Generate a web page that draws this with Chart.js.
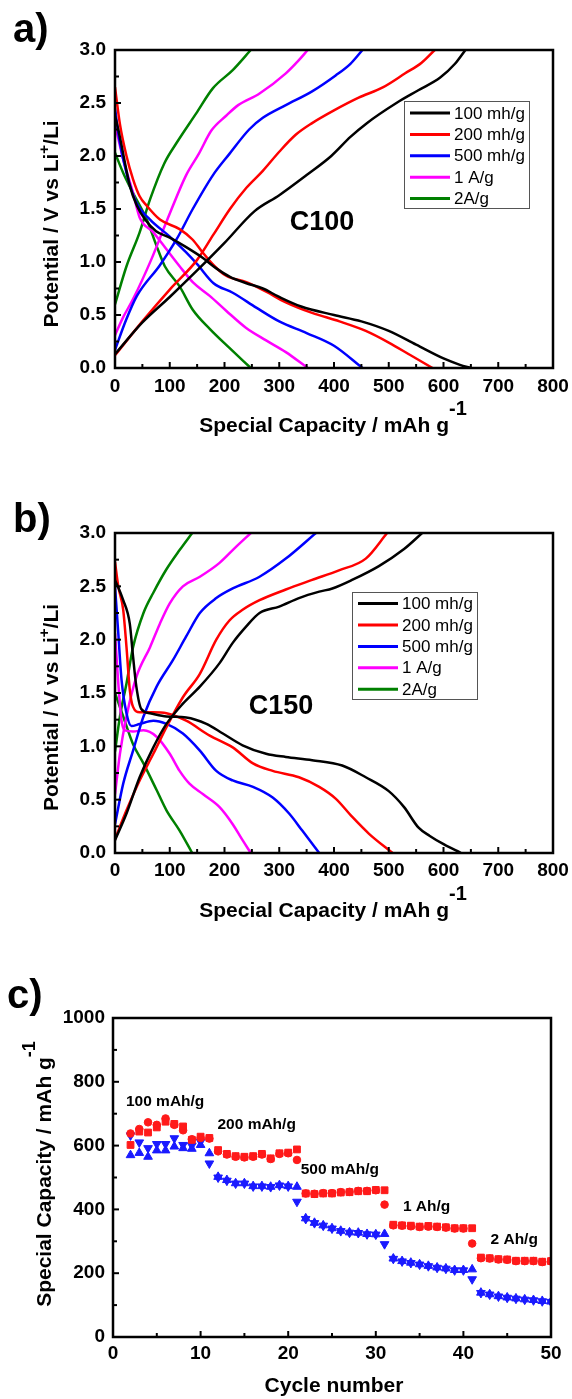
<!DOCTYPE html>
<html>
<head>
<meta charset="utf-8">
<script src="https://cdn.jsdelivr.net/npm/chart.js@4.4.1/dist/chart.umd.min.js"></script>
<style>
  html, body { margin: 0; padding: 0; background: #fff; }
  body { width: 572px; height: 1399px; position: relative; overflow: hidden; }
  canvas { position: absolute; left: 0; }
</style>
</head>
<body>
<canvas id="chartA" width="572" height="490" style="top:0px"></canvas>
<canvas id="chartB" width="572" height="470" style="top:490px"></canvas>
<canvas id="chartC" width="572" height="439" style="top:960px"></canvas>
<script>
const FONT = "'Liberation Sans', Arial, Helvetica, sans-serif";
Chart.defaults.font.family = FONT;
Chart.defaults.color = '#000';

// legend names and colours shared by panels a and b
const rateLabels = ['100 mh/g', '200 mh/g', '500 mh/g', '1 A/g', '2A/g'];
const rateColors = ['#000000', '#ff0000', '#0000ff', '#ff00ff', '#008000'];

// panel a (C100): [capacity mAh/g, potential V]
const a100Dis = [[0,2.38],[6,2.25],[15,2.02],[27,1.72],[40,1.53],[55,1.40],[75,1.29],[100,1.23],[130,1.14],[160,1.04],[185,0.94],[210,0.86],[240,0.80],[270,0.75],[300,0.67],[340,0.58],[400,0.50],[450,0.44],[500,0.35],[550,0.22],[600,0.09],[630,0.03],[650,0.0]];
const a100Chg = [[0,0.13],[50,0.43],[100,0.67],[150,0.92],[200,1.18],[255,1.48],[300,1.63],[350,1.82],[395,2.00],[430,2.18],[460,2.31],[514,2.50],[554,2.62],[594,2.74],[621,2.87],[640,3.0]];
const a200Dis = [[0,2.65],[9,2.30],[21,2.00],[33,1.78],[45,1.62],[58,1.53],[82,1.40],[118,1.31],[142,1.21],[160,1.09],[182,0.96],[203,0.87],[240,0.81],[276,0.72],[312,0.62],[360,0.52],[410,0.44],[458,0.35],[500,0.24],[540,0.12],[580,0.0]];
const a200Chg = [[0,0.12],[50,0.44],[100,0.74],[150,1.02],[180,1.26],[210,1.50],[240,1.70],[270,1.86],[300,2.04],[330,2.20],[360,2.31],[400,2.43],[445,2.55],[490,2.65],[530,2.78],[560,2.88],[584,3.0]];
const a500Dis = [[0,2.45],[8,2.15],[21,1.84],[39,1.56],[64,1.40],[100,1.24],[130,1.09],[150,0.98],[180,0.80],[215,0.71],[258,0.57],[300,0.44],[350,0.33],[400,0.21],[452,0.0]];
const a500Chg = [[0,0.17],[20,0.45],[40,0.68],[82,0.97],[112,1.21],[142,1.50],[179,1.82],[209,2.02],[245,2.25],[270,2.36],[312,2.48],[360,2.61],[403,2.76],[430,2.87],[452,3.0]];
const a1ADis = [[0,2.30],[15,1.97],[33,1.65],[45,1.42],[70,1.28],[94,1.12],[118,0.96],[142,0.81],[173,0.68],[203,0.54],[239,0.38],[276,0.26],[312,0.15],[352,0.0]];
const a1AChg = [[0,0.31],[15,0.48],[33,0.65],[66,1.02],[94,1.38],[130,1.82],[153,2.02],[176,2.24],[203,2.38],[225,2.48],[264,2.59],[312,2.78],[335,2.90],[352,3.0]];
const a2ADis = [[0,2.03],[15,1.84],[33,1.65],[58,1.40],[76,1.15],[91,0.96],[118,0.77],[142,0.55],[173,0.37],[209,0.19],[248,0.0]];
const a2AChg = [[0,0.60],[21,0.96],[45,1.28],[64,1.59],[90,1.93],[112,2.12],[148,2.40],[179,2.64],[215,2.81],[248,3.0]];

// panel b (C150)
const b100Dis = [[0,2.56],[15,2.37],[27,2.15],[33,1.84],[39,1.56],[48,1.35],[64,1.31],[94,1.28],[130,1.27],[167,1.21],[197,1.12],[233,1.01],[276,0.93],[312,0.90],[360,0.87],[415,0.82],[458,0.71],[500,0.58],[528,0.43],[554,0.24],[575,0.16],[601,0.08],[632,0.0]];
const b100Chg = [[0,0.12],[21,0.37],[45,0.71],[70,0.99],[94,1.21],[124,1.40],[155,1.56],[191,1.78],[215,1.97],[239,2.12],[264,2.25],[300,2.31],[336,2.39],[373,2.45],[397,2.48],[433,2.56],[482,2.69],[528,2.85],[561,3.0]];
const b200Dis = [[0,2.73],[6,2.50],[15,2.28],[21,1.93],[27,1.53],[33,1.37],[45,1.32],[70,1.32],[94,1.31],[130,1.24],[173,1.10],[215,0.99],[252,0.84],[288,0.77],[336,0.71],[373,0.62],[403,0.51],[433,0.34],[464,0.18],[507,0.0]];
const b200Chg = [[0,0.13],[21,0.40],[45,0.68],[70,0.93],[94,1.18],[124,1.46],[155,1.68],[185,2.00],[209,2.18],[233,2.28],[264,2.37],[312,2.47],[360,2.56],[409,2.65],[458,2.76],[497,3.0]];
const b500Dis = [[0,2.50],[6,2.06],[12,1.62],[21,1.31],[30,1.19],[45,1.21],[70,1.24],[94,1.21],[124,1.12],[155,0.96],[185,0.77],[215,0.68],[252,0.62],[288,0.52],[318,0.37],[342,0.21],[373,0.0]];
const b500Chg = [[0,0.27],[15,0.65],[33,0.96],[52,1.28],[76,1.56],[106,1.81],[130,2.03],[155,2.25],[185,2.39],[215,2.48],[264,2.59],[312,2.76],[367,3.0]];
const b1ADis = [[0,2.06],[6,1.59],[12,1.24],[18,1.15],[33,1.14],[52,1.15],[76,1.09],[100,0.93],[118,0.77],[136,0.65],[161,0.55],[191,0.43],[215,0.27],[233,0.12],[248,0.0]];
const b1AChg = [[0,0.55],[9,0.93],[21,1.28],[39,1.65],[64,1.93],[82,2.15],[100,2.34],[124,2.50],[155,2.59],[191,2.72],[221,2.87],[248,3.0]];
const b2ADis = [[0,1.50],[15,1.28],[33,1.02],[52,0.84],[76,0.59],[94,0.40],[118,0.21],[141,0.0]];
const b2AChg = [[0,0.95],[9,1.28],[21,1.59],[33,1.93],[52,2.25],[70,2.44],[94,2.66],[118,2.84],[141,3.0]];

// panel c: rate capability
const cycles = [2,3,4,5,6,7,8,9,10,11,12,13,14,15,16,17,18,19,20,21,22,23,24,25,26,27,28,29,30,31,32,33,34,35,36,37,38,39,40,41,42,43,44,45,46,47,48,49,50];
const redSquare = [602,644,641,657,675,668,660,618,628,624,586,574,567,565,567,574,560,576,578,588,450,448,450,450,453,454,457,457,461,460,352,350,349,346,348,346,344,341,341,341,249,247,244,243,239,239,239,236,238];
const redCircle = [638,652,673,665,685,665,648,620,624,622,582,572,565,563,565,572,558,574,576,555,450,449,451,451,454,455,458,458,460,415,350,349,347,345,346,345,343,340,340,293,247,246,243,242,238,238,238,235,237];
const blueUp = [570,577,565,585,585,597,592,590,602,576,502,492,482,482,473,473,471,476,473,471,372,358,350,341,333,328,327,323,322,323,246,238,233,228,223,218,215,210,210,212,139,134,128,124,121,118,116,113,111];
const blueDown = [632,610,592,605,605,623,602,600,612,544,500,490,481,481,472,472,470,475,472,424,370,357,349,340,332,327,326,322,321,291,245,237,232,227,222,217,214,209,209,181,138,133,127,123,120,117,115,112,110];

const f = (size, bold) => (bold ? 'bold ' : '') + size + 'px ' + FONT;

function drawParts(ctx, t) {
  ctx.save();
  ctx.translate(t.x, t.y);
  if (t.rot) ctx.rotate(t.rot * Math.PI / 180);
  ctx.fillStyle = '#000';
  ctx.textBaseline = t.baseline || 'alphabetic';
  ctx.textAlign = 'left';
  let total = 0;
  const widths = t.parts.map(p => { ctx.font = p.font; const w = ctx.measureText(p.t).width; total += w; return w; });
  let cx = t.align === 'left' ? 0 : -total / 2;
  t.parts.forEach((p, i) => {
    ctx.font = p.font;
    ctx.fillText(p.t, cx, p.dy || 0);
    cx += widths[i];
  });
  ctx.restore();
}

// frame, inward ticks, legend box and free text
const decor = {
  id: 'decor',
  afterDraw(chart, args, o) {
    const ctx = chart.ctx;
    const { left, right, top, bottom } = chart.chartArea;
    const xs = chart.scales.x, ys = chart.scales.y;
    ctx.save();
    ctx.strokeStyle = '#000';
    ctx.lineWidth = 2;
    for (let i = 1; xs.min + i * o.xMinor < xs.max - 1e-9; i++) {
      const px = xs.getPixelForValue(xs.min + i * o.xMinor);
      const len = i % 2 === 0 ? 6 : 4;
      ctx.beginPath(); ctx.moveTo(px, bottom); ctx.lineTo(px, bottom - len); ctx.stroke();
    }
    for (let i = 1; ys.min + i * o.yMinor < ys.max - 1e-9; i++) {
      const py = ys.getPixelForValue(ys.min + i * o.yMinor);
      const len = i % 2 === 0 ? 6 : 4;
      ctx.beginPath(); ctx.moveTo(left, py); ctx.lineTo(left + len, py); ctx.stroke();
    }
    ctx.lineWidth = 2.5;
    ctx.strokeRect(left, top, right - left, bottom - top);

    if (o.legend) {
      const L = o.legend;
      ctx.fillStyle = '#fff';
      ctx.fillRect(L.x, L.y, L.w, L.h);
      ctx.lineWidth = 1;
      ctx.strokeStyle = '#555';
      ctx.strokeRect(L.x + 0.5, L.y + 0.5, L.w, L.h);
      ctx.font = f(17, false);
      ctx.textBaseline = 'middle';
      ctx.textAlign = 'left';
      chart.data.datasets.filter(d => d.inLegend).forEach((d, i) => {
        const yy = L.y + L.first + i * L.rowH;
        ctx.strokeStyle = d.borderColor;
        ctx.lineWidth = 3;
        ctx.beginPath(); ctx.moveTo(L.x + L.line[0], yy); ctx.lineTo(L.x + L.line[1], yy); ctx.stroke();
        ctx.fillStyle = '#000';
        ctx.fillText(d.label, L.x + L.textX, yy + 1);
      });
    }
    (o.notes || []).forEach(n => {
      drawParts(ctx, { parts: [{ t: n.t, font: f(15.5, true) }], x: xs.getPixelForValue(n.cx), y: ys.getPixelForValue(n.cy), baseline: 'middle' });
    });
    (o.texts || []).forEach(t => drawParts(ctx, t));
    ctx.restore();
  }
};

function linAxis(min, max, step, pad, size, fmt, fit) {
  return {
    type: 'linear', min: min, max: max,
    grid: { display: false, drawTicks: false },
    border: { display: false },
    ticks: { stepSize: step, padding: pad, maxRotation: 0, autoSkip: false, color: '#000',
             font: { size: 19, weight: 'bold' }, callback: fmt },
    afterFit: fit
  };
}

function curveChart(id, curves, area, canvasH, deco) {
  const datasets = [];
  curves.forEach((c, i) => {
    [c[0], c[1]].forEach((pts, k) => {
      datasets.push({
        label: rateLabels[i], inLegend: k === 0, data: pts,
        borderColor: rateColors[i], backgroundColor: rateColors[i],
        borderWidth: 2.5, pointRadius: 0, showLine: true, fill: false,
        cubicInterpolationMode: 'monotone'
      });
    });
  });
  return new Chart(document.getElementById(id), {
    type: 'scatter',
    data: { datasets },
    options: {
      responsive: false, animation: false,
      layout: { autoPadding: false, padding: { left: 0, top: area.top, right: 572 - area.right, bottom: 0 } },
      scales: {
        x: linAxis(0, 800, 100, area.xPad, 19, v => v, s => { s.height = canvasH - area.bottom; s.paddingLeft = 0; s.paddingRight = 0; }),
        y: linAxis(0, 3, 0.5, 9, 19, v => v.toFixed(1), s => { s.width = area.left; s.paddingTop = 0; s.paddingBottom = 0; })
      },
      plugins: { legend: { display: false }, tooltip: { enabled: false }, decor: deco }
    },
    plugins: [decor]
  });
}

curveChart('chartA',
  [[a100Dis, a100Chg], [a200Dis, a200Chg], [a500Dis, a500Chg], [a1ADis, a1AChg], [a2ADis, a2AChg]],
  { left: 115, right: 553, top: 50, bottom: 368, xPad: 7 }, 490,
  {
    xMinor: 50, yMinor: 0.25,
    legend: { x: 404, y: 101, w: 125, h: 107, first: 12, rowH: 21.4, line: [6, 46], textX: 50 },
    texts: [
      { parts: [{ t: 'a)', font: f(40, true) }], x: 13, y: 42, align: 'left' },
      { parts: [{ t: 'C100', font: f(27, true) }], x: 322, y: 223, baseline: 'middle' },
      { parts: [{ t: 'Special Capacity / mAh g', font: f(21, true) }, { t: '-1', font: f(20, true), dy: -17 }], x: 333, y: 432 },
      { parts: [{ t: 'Potential / V vs Li', font: f(21, true) }, { t: '+', font: f(15, true), dy: -9 }, { t: '/Li', font: f(21, true) }], x: 58, y: 224, rot: -90 }
    ]
  });

curveChart('chartB',
  [[b100Dis, b100Chg], [b200Dis, b200Chg], [b500Dis, b500Chg], [b1ADis, b1AChg], [b2ADis, b2AChg]],
  { left: 115, right: 553, top: 43, bottom: 363, xPad: 6 }, 470,
  {
    xMinor: 50, yMinor: 0.25,
    legend: { x: 352, y: 102, w: 125, h: 107, first: 11.6, rowH: 21.4, line: [6, 46], textX: 50 },
    texts: [
      { parts: [{ t: 'b)', font: f(40, true) }], x: 13, y: 41.5, align: 'left' },
      { parts: [{ t: 'C150', font: f(27, true) }], x: 281, y: 217, baseline: 'middle' },
      { parts: [{ t: 'Special Capacity / mAh g', font: f(21, true) }, { t: '-1', font: f(20, true), dy: -17 }], x: 333, y: 427 },
      { parts: [{ t: 'Potential / V vs Li', font: f(21, true) }, { t: '+', font: f(15, true), dy: -9 }, { t: '/Li', font: f(21, true) }], x: 58, y: 217.5, rot: -90 }
    ]
  });

// panel c
const pts = vals => cycles.map((c, i) => ({ x: c, y: vals[i] }));
const marker = (vals, color, style, r, rot) => ({
  data: pts(vals), showLine: false, pointStyle: style, pointRadius: r, pointRotation: rot || 0,
  pointBackgroundColor: color, pointBorderColor: color, pointBorderWidth: 1
});

new Chart(document.getElementById('chartC'), {
  type: 'scatter',
  data: {
    datasets: [
      marker(redSquare, '#ff1a1a', 'rect', 4.8),
      marker(redCircle, '#ff1a1a', 'circle', 3.8),
      marker(blueUp, '#1a1aff', 'triangle', 5),
      marker(blueDown, '#1a1aff', 'triangle', 5, 180)
    ]
  },
  options: {
    responsive: false, animation: false,
    layout: { autoPadding: false, padding: { left: 0, top: 58, right: 21, bottom: 0 } },
    scales: {
      x: linAxis(0, 50, 10, 5.5, 19, v => v, s => { s.height = 439 - 377; s.paddingLeft = 0; s.paddingRight = 0; }),
      y: linAxis(0, 1000, 200, 8, 19, v => v, s => { s.width = 113; s.paddingTop = 0; s.paddingBottom = 0; })
    },
    plugins: {
      legend: { display: false }, tooltip: { enabled: false },
      decor: {
        xMinor: 5, yMinor: 100,
        notes: [
          { t: '100 mAh/g', cx: 5.95, cy: 738 },
          { t: '200 mAh/g', cx: 16.4, cy: 665 },
          { t: '500 mAh/g', cx: 25.9, cy: 524 },
          { t: '1 Ah/g', cx: 35.8, cy: 409 },
          { t: '2 Ah/g', cx: 45.8, cy: 304 }
        ],
        texts: [
          { parts: [{ t: 'c)', font: f(40, true) }], x: 7, y: 48, align: 'left' },
          { parts: [{ t: 'Cycle number', font: f(21, true) }], x: 334, y: 432 },
          { parts: [{ t: 'Special Capacity / mAh g', font: f(21, true) }, { t: '-1', font: f(18, true), dy: -16 }], x: 51, y: 214, rot: -90 }
        ]
      }
    }
  },
  plugins: [decor]
});
</script>
</body>
</html>
